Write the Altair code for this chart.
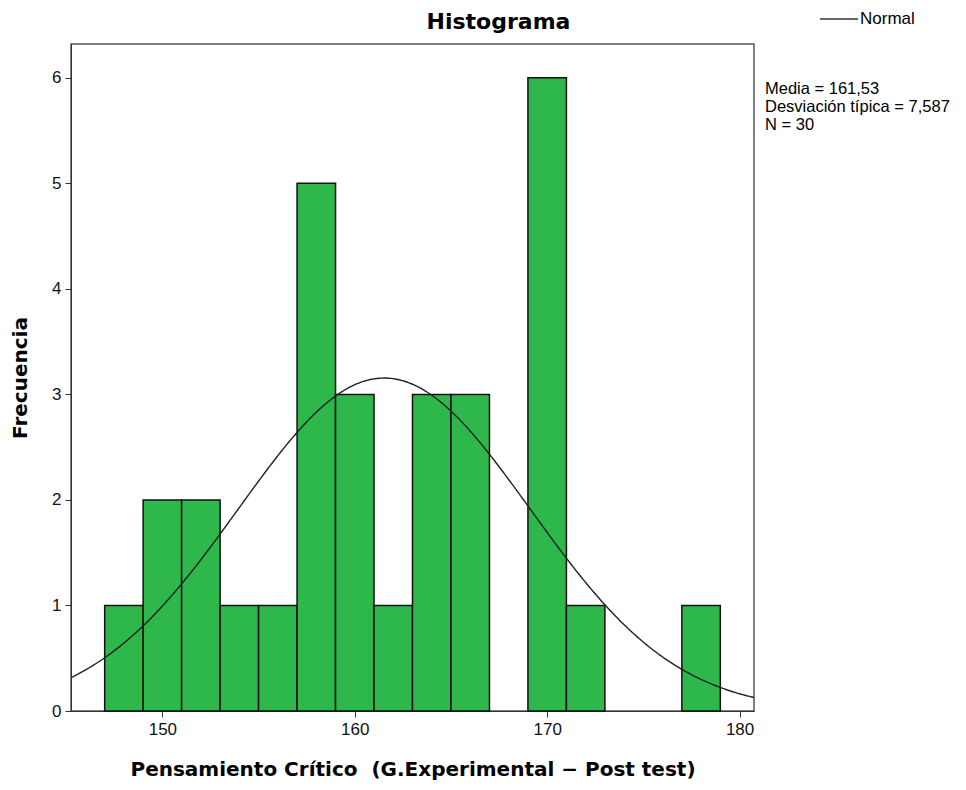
import altair as alt
import numpy as np
import pandas as pd

# Histogram data (bin width 2)
bin_start = [147, 149, 151, 153, 155, 157, 159, 161, 163, 165, 167, 169, 171, 173, 175, 177]
counts    = [1,   2,   2,   1,   1,   5,   3,   1,   3,   3,   0,   6,   1,   0,   0,   1]
bin_width = 2

# Stats shown in the chart
media = 161.53
desv = 7.587
n_total = 30

x_ticks = [150, 160, 170, 180]
y_ticks = [0, 1, 2, 3, 4, 5, 6]
x_domain = [145.25, 180.75]
y_domain = [0, 6.32]

bars = pd.DataFrame({
    "start": bin_start,
    "end": [s + bin_width for s in bin_start],
    "count": counts,
})
bars = bars[bars["count"] > 0]

# Normal curve defined by the stated mean, SD and N
xs = np.linspace(x_domain[0], x_domain[1], 300)
ys = n_total * bin_width / (desv * np.sqrt(2 * np.pi)) * np.exp(-0.5 * ((xs - media) / desv) ** 2)
curve = pd.DataFrame({"x": xs, "y": ys})

W, H = 683, 667
FONT = "Liberation Sans"
BFONT = "DejaVu Sans"

xscale = alt.Scale(domain=x_domain, nice=False, zero=False)
yscale = alt.Scale(domain=y_domain, nice=False)

xaxis = alt.Axis(values=x_ticks, format="d", title="Pensamiento Crítico \u00a0(G.Experimental − Post test)",
                 grid=False, labelFontSize=17, titleFontSize=20, titleFontWeight="bold",
                 titlePadding=22, labelPadding=4, tickSize=6, domainColor="#333", tickColor="#333",
                 labelColor="#111", titleColor="#000", labelFont=FONT, titleFont=BFONT)
yaxis = alt.Axis(values=y_ticks, format="d", title="Frecuencia", grid=False, labelFontSize=17,
                 titleFontSize=20, titleFontWeight="bold", titleX=-51, titleY=H / 2,
                 titleAlign="center", titleBaseline="middle", titleAngle=270, labelPadding=4,
                 tickSize=6, domainColor="#333", tickColor="#333", labelColor="#111",
                 titleColor="#000", labelFont=FONT, titleFont=BFONT)

hist = alt.Chart(bars).mark_rect(fill="#2eb84b", stroke="#111", strokeWidth=1.5).encode(
    x=alt.X("start:Q", scale=xscale, axis=xaxis),
    x2="end:Q",
    y=alt.Y("count:Q", scale=yscale, axis=yaxis),
    y2=alt.datum(0),
)

line = alt.Chart(curve).mark_line(color="#222", strokeWidth=1.4).encode(
    x=alt.X("x:Q", scale=xscale),
    y=alt.Y("y:Q", scale=yscale),
)

title = alt.Chart(pd.DataFrame({"t": ["Histograma"]})).mark_text(
    font=BFONT, fontSize=22, fontWeight="bold", align="center", baseline="middle", color="#000"
).encode(text="t:N", x=alt.value(427.5), y=alt.value(-22))

legend_line = alt.Chart(pd.DataFrame({"a": [0]})).mark_rule(color="#333", strokeWidth=1.5).encode(
    x=alt.value(749), x2=alt.value(787), y=alt.value(-25)
)
legend_text = alt.Chart(pd.DataFrame({"t": ["Normal"]})).mark_text(
    font=FONT, fontSize=17, align="left", baseline="middle", color="#000"
).encode(text="t:N", x=alt.value(789), y=alt.value(-25))

stats_text = "\n".join([f"Media = {media:.2f}".replace(".", ","),
                        f"Desviación típica = {desv:.3f}".replace(".", ","),
                        f"N = {n_total}"])
stats = alt.Chart(pd.DataFrame({"t": [stats_text]})).mark_text(
    font=FONT, fontSize=16.5, align="left", baseline="middle", color="#000",
    lineBreak="\n", lineHeight=18
).encode(text="t:N", x=alt.value(694), y=alt.value(45))

chart = alt.layer(hist, line, title, legend_line, legend_text, stats).properties(
    width=W, height=H,
    autosize=alt.AutoSizeParams(type="none"),
    padding={"left": 63, "top": 36, "right": 204, "bottom": 71},
    background="white",
).configure_view(stroke="#555", strokeWidth=1.5)

chart.save("out.html", embed_options={"renderer": "svg", "actions": False})
